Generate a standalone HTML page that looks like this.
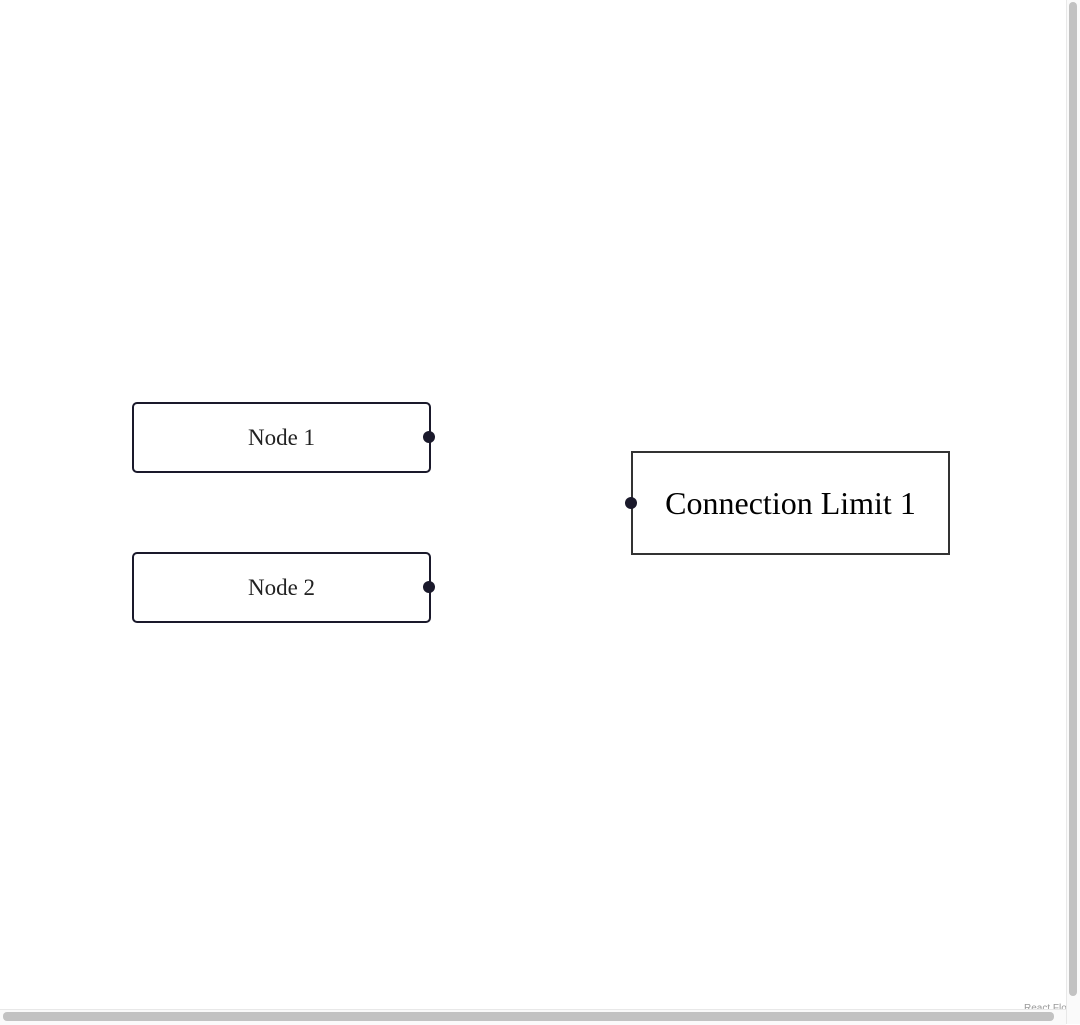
<!DOCTYPE html>
<html><head><style>
html,body{margin:0;padding:0;width:1080px;height:1024px;overflow:hidden;background:#fff;font-family:"Liberation Serif",serif;}
.n{position:absolute;box-sizing:border-box;background:#fff;display:flex;align-items:center;justify-content:center;color:#222;}
.s{border:2px solid #1a192b;border-radius:5px;width:299px;height:71px;left:132px;font-size:23px;}
.h{position:absolute;width:12px;height:12px;border-radius:50%;background:#1a192b;}
</style></head><body>
<div class="n s" style="top:402px">Node 1</div>
<div class="h" style="left:423px;top:431px"></div>
<div class="n s" style="top:552px">Node 2</div>
<div class="h" style="left:423px;top:581px"></div>
<div class="n" style="left:631px;top:451px;width:319px;height:104px;border:2px solid #333;font-size:32px;color:#000;">Connection Limit 1</div>
<div class="h" style="left:625px;top:497px"></div>
<div style="position:absolute;left:1024px;top:1003px;font-size:10px;color:#999;font-family:'Liberation Sans',sans-serif;">React Flow</div>
<div style="position:absolute;left:1066px;top:0;width:14px;height:1024px;background:#fafafa;border-left:1px solid #e8e8e8;"></div>
<div style="position:absolute;left:1069px;top:2px;width:8px;height:994px;background:#c2c2c2;border-radius:4px;"></div>
<div style="position:absolute;left:0;top:1009px;width:1066px;height:15px;background:#fafafa;border-top:1px solid #e8e8e8;"></div>
<div style="position:absolute;left:3px;top:1012px;width:1051px;height:9px;background:#c2c2c2;border-radius:4px;"></div>
</body></html>
